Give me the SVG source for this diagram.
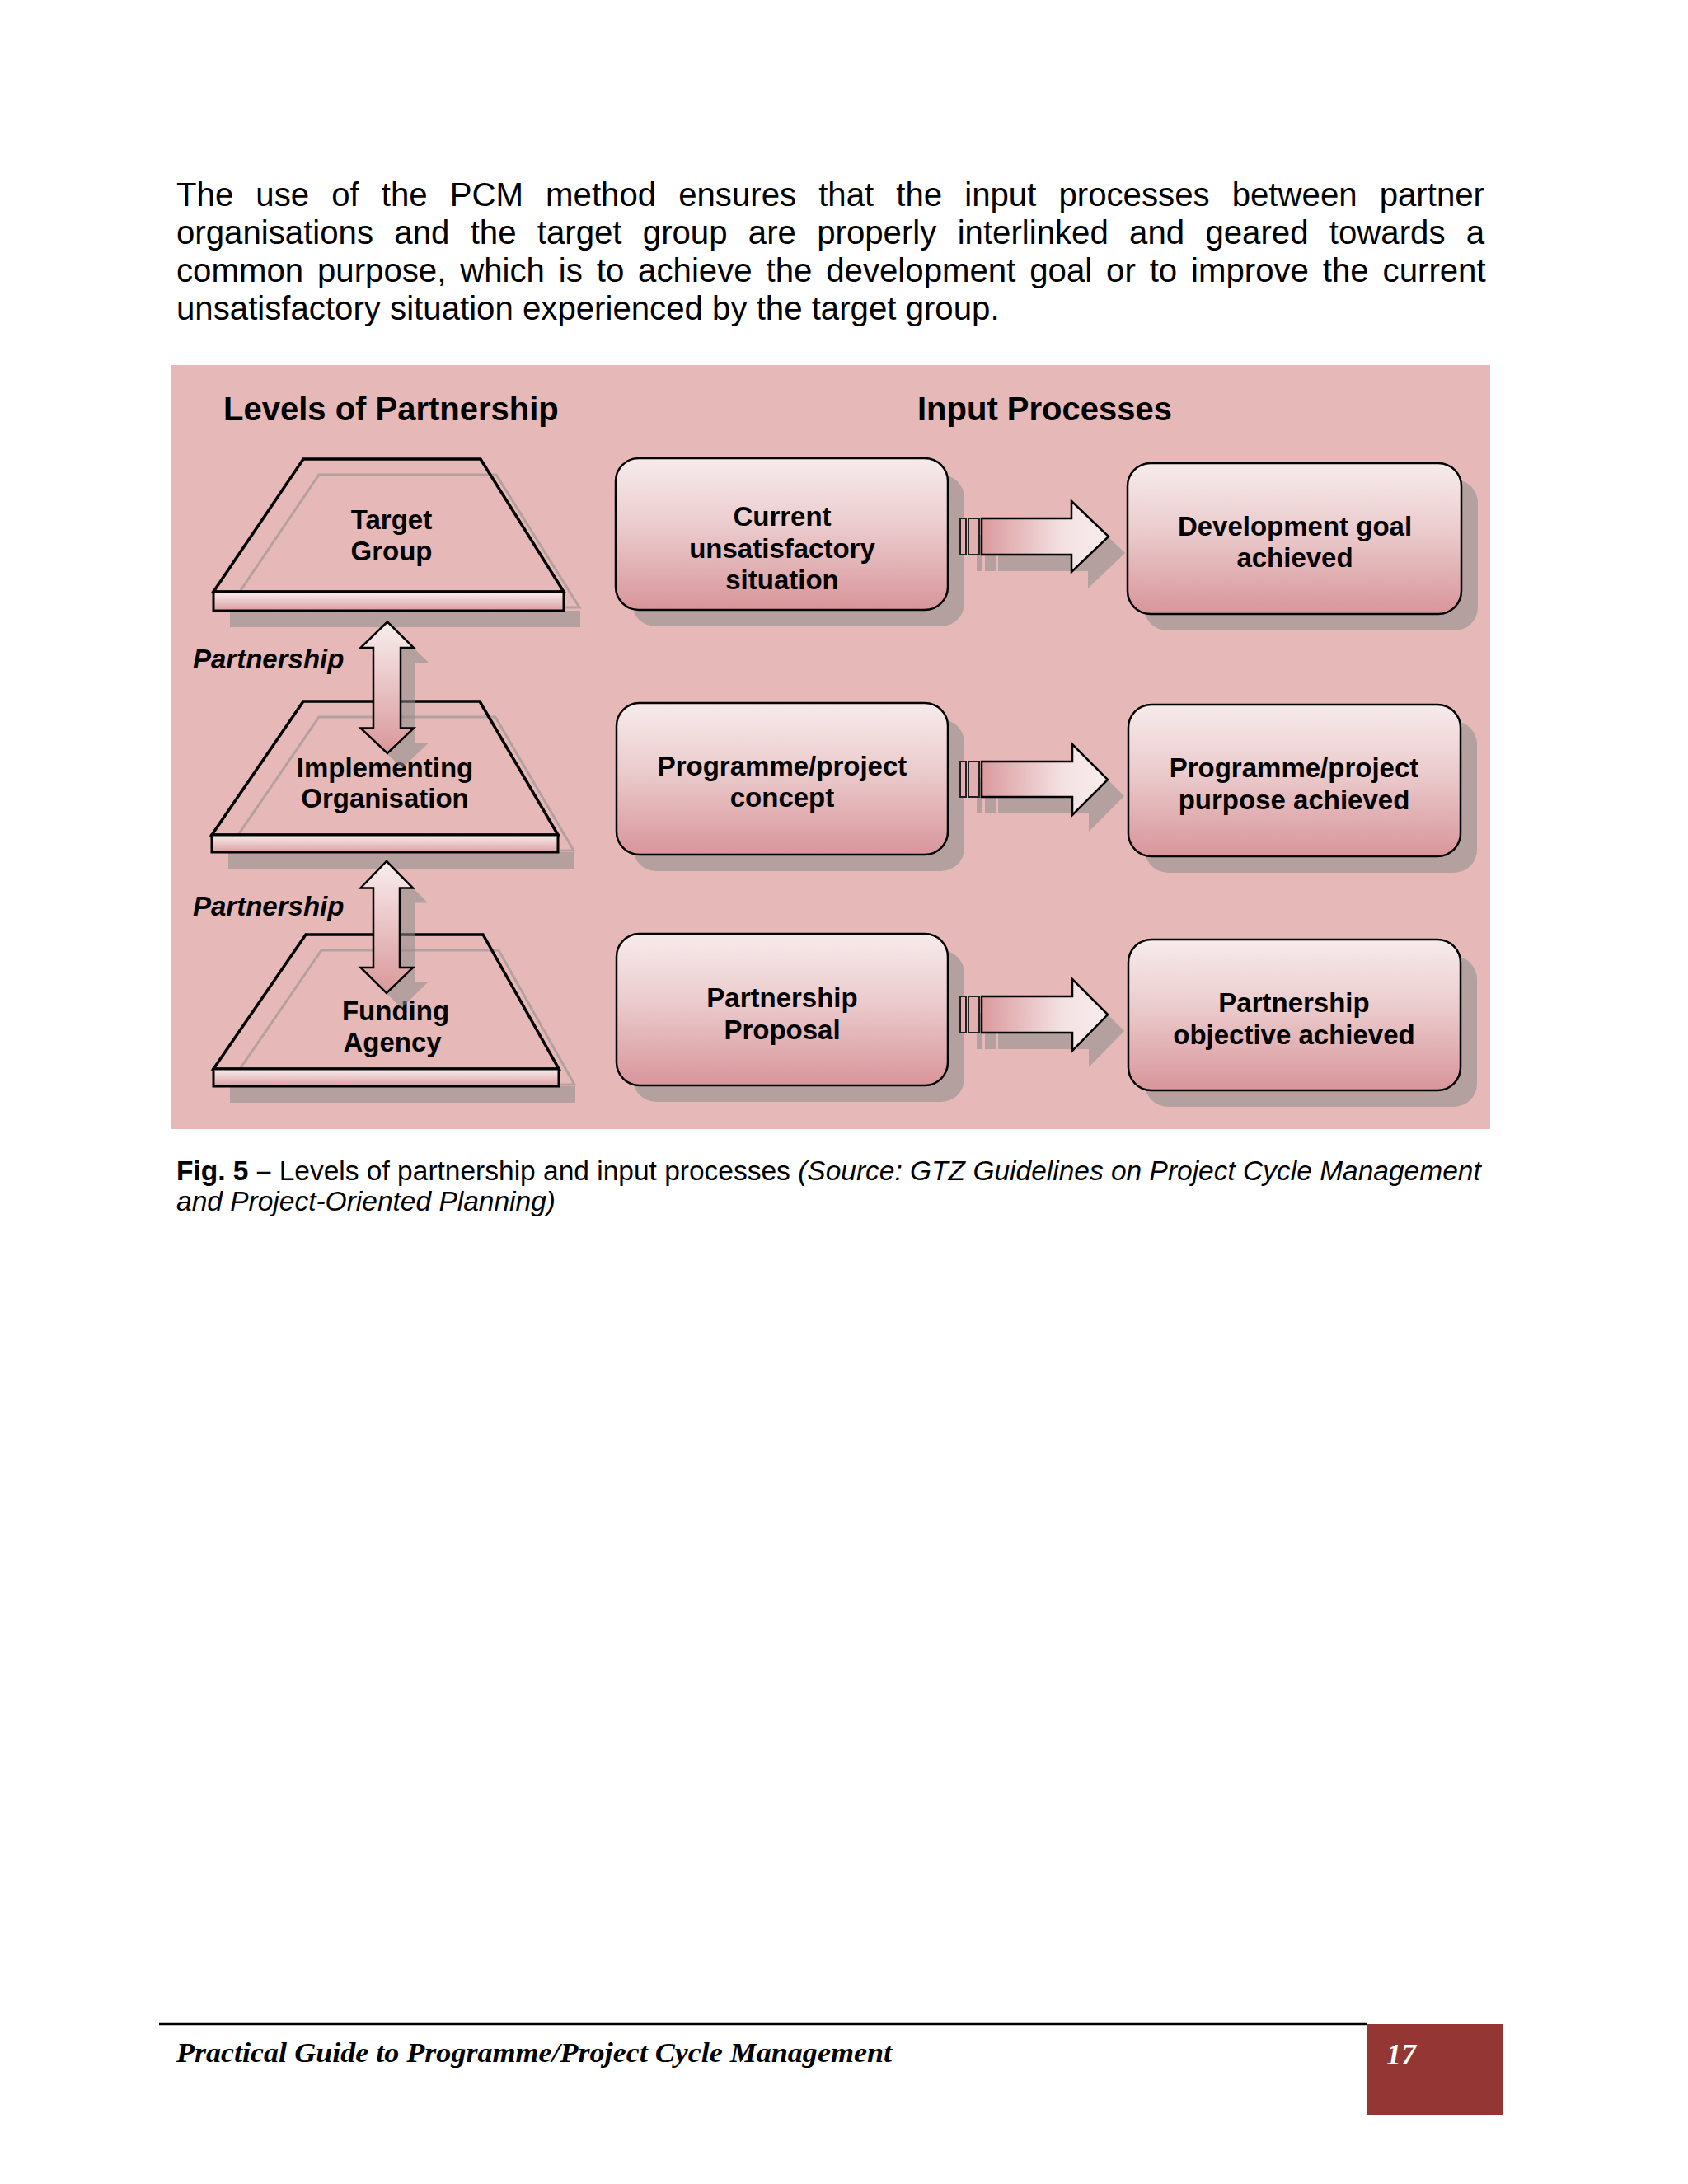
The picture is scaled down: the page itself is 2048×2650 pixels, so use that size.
<svg xmlns="http://www.w3.org/2000/svg" width="2048" height="2650" viewBox="0 0 2048 2650">
<defs>
<linearGradient id="boxGrad" x1="0" y1="0" x2="0" y2="1">
<stop offset="0" stop-color="#f7ebec"/>
<stop offset="0.45" stop-color="#ebcbcd"/>
<stop offset="1" stop-color="#d8959a"/>
</linearGradient>
<linearGradient id="slabGrad" x1="0" y1="0" x2="0" y2="1">
<stop offset="0" stop-color="#faf0f0"/>
<stop offset="1" stop-color="#db9ea1"/>
</linearGradient>
<linearGradient id="vGrad" x1="0" y1="0" x2="0" y2="1">
<stop offset="0" stop-color="#f9eeee"/>
<stop offset="1" stop-color="#d9979a"/>
</linearGradient>
<linearGradient id="hGrad" x1="0" y1="0" x2="1" y2="0">
<stop offset="0" stop-color="#da9a9d"/>
<stop offset="0.65" stop-color="#f4e2e3"/>
<stop offset="1" stop-color="#f8eced"/>
</linearGradient>
<style>
.para{font-family:"Liberation Sans",Arial,sans-serif;font-size:40.2px;fill:#000}
.cap{font-family:"Liberation Sans",Arial,sans-serif;font-size:33.5px;fill:#000}
.title{font-family:"Liberation Sans",Arial,sans-serif;font-size:40px;font-weight:bold;fill:#000}
.lbl{font-family:"Liberation Sans",Arial,sans-serif;font-size:33px;font-weight:bold;fill:#000;text-anchor:middle}
.pl{font-family:"Liberation Sans",Arial,sans-serif;font-size:33px;font-weight:bold;font-style:italic;fill:#000}
.box{fill:url(#boxGrad);stroke:#000;stroke-width:2.5}
.shadow{fill:#8c8c8c;fill-opacity:0.55}
.tshadow{fill:none;stroke:#8c8c8c;stroke-opacity:0.55;stroke-width:3}
.trap{fill:none;stroke:#000;stroke-width:3.5;stroke-linejoin:miter}
.slab{fill:url(#slabGrad);stroke:#000;stroke-width:3}
.varrow{fill:url(#vGrad);stroke:#000;stroke-width:2.5}
.harrow{fill:url(#hGrad);stroke:#000;stroke-width:2.5}
.tail{fill:#e2aeb0;stroke:#222;stroke-width:2}
.foot{font-family:"Liberation Serif","Times New Roman",serif;font-weight:bold;font-style:italic}
</style>
</defs>
<rect width="2048" height="2650" fill="#ffffff"/>

<g id="paragraph">
<text class="para" x="214" y="250" word-spacing="15.9">The use of the PCM method ensures that the input processes between partner</text>
<text class="para" x="214" y="296" word-spacing="14.1">organisations and the target group are properly interlinked and geared towards a</text>
<text class="para" x="214" y="342" word-spacing="5.7">common purpose, which is to achieve the development goal or to improve the current</text>
<text class="para" x="214" y="388">unsatisfactory situation experienced by the target group.</text>
</g>

<rect id="figure-bg" x="208" y="443" width="1600" height="927" fill="#e6b9b8"/>

<g id="titles">
<text class="title" x="271" y="510">Levels of Partnership</text>
<text class="title" x="1113" y="510">Input Processes</text>
</g>

<g id="target-group">
<polygon class="tshadow" points="387,576 602,576 703,737 278,737"/>
<rect class="shadow" x="279" y="741" width="425" height="20"/>
<polygon class="trap" points="368,557 583,557 684,718 259,718"/>
<rect class="slab" x="259" y="718" width="425" height="23"/>
<text class="lbl" x="475" y="642">Target</text>
<text class="lbl" x="475" y="680">Group</text>
</g>

<g id="implementing-organisation">
<polygon class="tshadow" points="387,870 601,870 696,1032 276,1032"/>
<rect class="shadow" x="277" y="1034" width="420" height="20"/>
<polygon class="trap" points="368,851 582,851 677,1013 257,1013"/>
<rect class="slab" x="257" y="1013" width="420" height="21"/>
<text class="lbl" x="467" y="943">Implementing</text>
<text class="lbl" x="467" y="980">Organisation</text>
</g>

<g id="funding-agency">
<polygon class="tshadow" points="390,1153 605,1153 697,1316 278,1316"/>
<rect class="shadow" x="279" y="1318" width="419" height="20"/>
<polygon class="trap" points="371,1134 586,1134 678,1297 259,1297"/>
<rect class="slab" x="259" y="1297" width="419" height="21"/>
<text class="lbl" x="480" y="1238">Funding</text>
<text class="lbl" x="476" y="1276">Agency</text>
</g>

<g id="current-situation">
<rect class="shadow" x="767" y="576" width="403" height="184" rx="28"/>
<rect class="box" x="747" y="556" width="403" height="184" rx="28"/>
<text class="lbl" x="949" y="638">Current</text>
<text class="lbl" x="949" y="677">unsatisfactory</text>
<text class="lbl" x="949" y="715">situation</text>
</g>

<g id="development-goal">
<rect class="shadow" x="1388" y="582" width="405" height="183" rx="28"/>
<rect class="box" x="1368" y="562" width="405" height="183" rx="28"/>
<text class="lbl" x="1571" y="650">Development goal</text>
<text class="lbl" x="1571" y="688">achieved</text>
</g>

<g id="programme-concept">
<rect class="shadow" x="768" y="873" width="402" height="184" rx="28"/>
<rect class="box" x="748" y="853" width="402" height="184" rx="28"/>
<text class="lbl" x="949" y="941">Programme/project</text>
<text class="lbl" x="949" y="979">concept</text>
</g>

<g id="programme-purpose">
<rect class="shadow" x="1389" y="875" width="403" height="184" rx="28"/>
<rect class="box" x="1369" y="855" width="403" height="184" rx="28"/>
<text class="lbl" x="1570" y="943">Programme/project</text>
<text class="lbl" x="1570" y="982">purpose achieved</text>
</g>

<g id="partnership-proposal">
<rect class="shadow" x="768" y="1153" width="402" height="184" rx="28"/>
<rect class="box" x="748" y="1133" width="402" height="184" rx="28"/>
<text class="lbl" x="949" y="1222">Partnership</text>
<text class="lbl" x="949" y="1261">Proposal</text>
</g>

<g id="partnership-objective">
<rect class="shadow" x="1389" y="1160" width="403" height="183" rx="28"/>
<rect class="box" x="1369" y="1140" width="403" height="183" rx="28"/>
<text class="lbl" x="1570" y="1228">Partnership</text>
<text class="lbl" x="1570" y="1267">objective achieved</text>
</g>

<g id="connectors">
<polygon class="shadow" points="488,772.5 520,804 504,804 504,901.5 520,901.5 488,932 455.5,901.5 471,901.5 471,804 455.5,804"/>
<polygon class="varrow" points="470,754.5 502,786 486,786 486,883.5 502,883.5 470,914 437.5,883.5 453,883.5 453,786 437.5,786"/>
<text class="pl" x="234" y="811">Partnership</text>
<polygon class="shadow" points="487,1063 519,1095.5 503,1095.5 503,1192 519,1192 487,1223 455.5,1192 471,1192 471,1095.5 455.5,1095.5"/>
<polygon class="varrow" points="469,1045 501,1077.5 485,1077.5 485,1174 501,1174 469,1205 437.5,1174 453,1174 453,1077.5 437.5,1077.5"/>
<text class="pl" x="234" y="1111">Partnership</text>

<rect class="shadow" x="1185" y="649" width="7" height="44"/>
<rect class="shadow" x="1195" y="649" width="13" height="44"/>
<polygon class="shadow" points="1211,649 1320,649 1320,628 1365,671 1320,714 1320,693 1211,693"/>
<rect class="tail" x="1165" y="629" width="7" height="44"/>
<rect class="tail" x="1175" y="629" width="13" height="44"/>
<polygon class="harrow" points="1191,629 1300,629 1300,608 1345,651 1300,694 1300,673 1191,673"/>

<rect class="shadow" x="1185" y="944" width="7" height="43"/>
<rect class="shadow" x="1195" y="944" width="13" height="43"/>
<polygon class="shadow" points="1211,944 1321,944 1321,923 1364,966 1321,1009 1321,987 1211,987"/>
<rect class="tail" x="1165" y="924" width="7" height="43"/>
<rect class="tail" x="1175" y="924" width="13" height="43"/>
<polygon class="harrow" points="1191,924 1301,924 1301,903 1344,946 1301,989 1301,967 1191,967"/>

<rect class="shadow" x="1185" y="1229" width="7" height="44"/>
<rect class="shadow" x="1195" y="1229" width="13" height="44"/>
<polygon class="shadow" points="1211,1229 1321,1229 1321,1208 1364,1251 1321,1295 1321,1273 1211,1273"/>
<rect class="tail" x="1165" y="1209" width="7" height="44"/>
<rect class="tail" x="1175" y="1209" width="13" height="44"/>
<polygon class="harrow" points="1191,1209 1301,1209 1301,1188 1344,1231 1301,1275 1301,1253 1191,1253"/>
</g>

<g id="caption">
<text class="cap" x="214" y="1432"><tspan font-weight="bold">Fig. 5 –</tspan> Levels of partnership and input processes <tspan font-style="italic">(Source: GTZ Guidelines on Project Cycle Management</tspan></text>
<text class="cap" x="214" y="1469" font-style="italic">and Project-Oriented Planning)</text>
</g>

<g id="footer">
<line x1="193" y1="2456" x2="1659" y2="2456" stroke="#000" stroke-width="2.5"/>
<text class="foot" x="214" y="2502" font-size="33" textLength="868" lengthAdjust="spacingAndGlyphs">Practical Guide to Programme/Project Cycle Management</text>
<rect x="1659" y="2456" width="164" height="110" fill="#943634"/>
<text class="foot" x="1682" y="2505" font-size="36" fill="#ffffff">17</text>
</g>
</svg>
